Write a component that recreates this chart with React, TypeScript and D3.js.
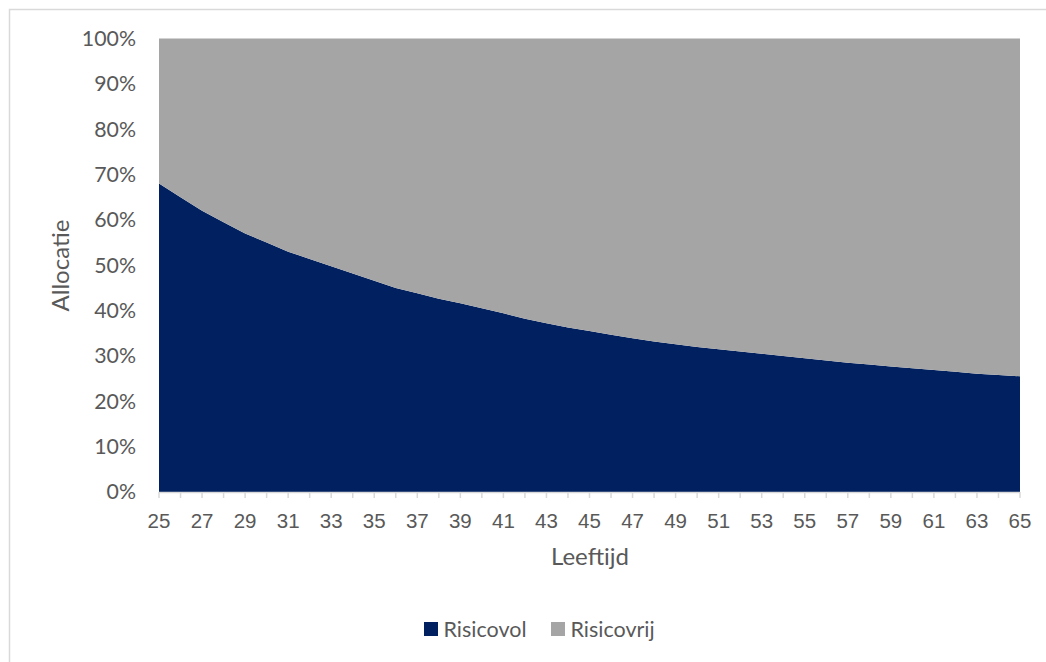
import React from "react";
import * as d3 from "d3";

const ages = d3.range(25, 66);
const risicovol = [
  68, 65, 62, 59.5, 57, 55, 53, 51.4, 49.8, 48.2, 46.6, 45, 43.8, 42.6, 41.6, 40.5,
  39.4, 38.2, 37.2, 36.3, 35.5, 34.7, 33.9, 33.2, 32.6, 32.0, 31.5, 31.0, 30.5, 30.0,
  29.5, 29.0, 28.5, 28.1, 27.7, 27.3, 26.9, 26.5, 26.1, 25.8, 25.5,
];
const risicovrij = [
  32, 35, 38, 40.5, 43, 45, 47, 48.6, 50.2, 51.8, 53.4, 55, 56.2, 57.4, 58.4, 59.5,
  60.6, 61.8, 62.8, 63.7, 64.5, 65.3, 66.1, 66.8, 67.4, 68.0, 68.5, 69.0, 69.5, 70.0,
  70.5, 71.0, 71.5, 71.9, 72.3, 72.7, 73.1, 73.5, 73.9, 74.2, 74.5,
];
const seriesNames = ["Risicovol", "Risicovrij"];
const colors = ["#002060", "#A5A5A5"];
const yTicks = [0, 10, 20, 30, 40, 50, 60, 70, 80, 90, 100];
const xLabelAges = d3.range(25, 66, 2);

const W = 1046;
const H = 662;
const left = 159;
const right = 1020;
const top = 38.5;
const bottom = 492;

export default function App() {
  const x = d3.scaleLinear().domain([25, 65]).range([left, right]);
  const y = d3.scaleLinear().domain([0, 100]).range([bottom, top]);
  const rows = ages.map((a, i) => ({ age: a, Risicovol: risicovol[i], Risicovrij: risicovrij[i] }));
  const stack = d3.stack<any>().keys(seriesNames).offset(d3.stackOffsetExpand);
  const layers = stack(rows);
  const area = d3
    .area<any>()
    .x((d) => x(d.data.age))
    .y0((d) => y(d[0] * 100))
    .y1((d) => y(d[1] * 100));

  const textColor = "#595959";
  const labelFont = "Lato, 'Open Sans', sans-serif";
  const numFont = "'Liberation Sans', Arial, sans-serif";

  return (
    <svg width={W} height={H} style={{ position: "absolute", left: 0, top: 0, background: "#fff" }}>
      <rect x={9.5} y={9.5} width={W + 20} height={H + 20} fill="#fff" stroke="#d9d9d9" strokeWidth={1.5} />
      {layers.map((layer, i) => (
        <path key={layer.key} d={area(layer) || ""} fill={colors[i]} />
      ))}
      <line x1={left} x2={right} y1={bottom + 0.5} y2={bottom + 0.5} stroke="#d9d9d9" strokeWidth={1.5} />
      {ages.map((a) => (
        <line key={a} x1={x(a)} x2={x(a)} y1={bottom} y2={bottom + 6} stroke="#d9d9d9" strokeWidth={1.5} />
      ))}
      {yTicks.map((t) => (
        <text
          key={t}
          x={136}
          y={y(t)}
          dy="0.35em"
          textAnchor="end"
          fontFamily={labelFont}
          fontSize={21.3}
          fill={textColor}
        >
          {t}%
        </text>
      ))}
      {xLabelAges.map((a) => (
        <text
          key={a}
          x={x(a)}
          y={521}
          dy="0.35em"
          textAnchor="middle"
          fontFamily={numFont}
          fontSize={20.5}
          fill={textColor}
        >
          {a}
        </text>
      ))}
      <text x={590} y={557} dy="0.35em" textAnchor="middle" fontFamily={labelFont} fontSize={24} fill={textColor}>
        Leeftijd
      </text>
      <text
        transform={`translate(61,${265.5}) rotate(-90)`}
        dy="0.35em"
        textAnchor="middle"
        fontFamily={labelFont}
        fontSize={24}
        fill={textColor}
      >
        Allocatie
      </text>
      {seriesNames.map((n, i) => {
        const lx = [424, 551][i];
        return (
          <g key={n}>
            <rect x={lx} y={622} width={14} height={14} fill={colors[i]} />
            <text x={lx + 19.5} y={629} dy="0.35em" fontFamily={labelFont} fontSize={21.5} fill={textColor}>
              {n}
            </text>
          </g>
        );
      })}
    </svg>
  );
}
